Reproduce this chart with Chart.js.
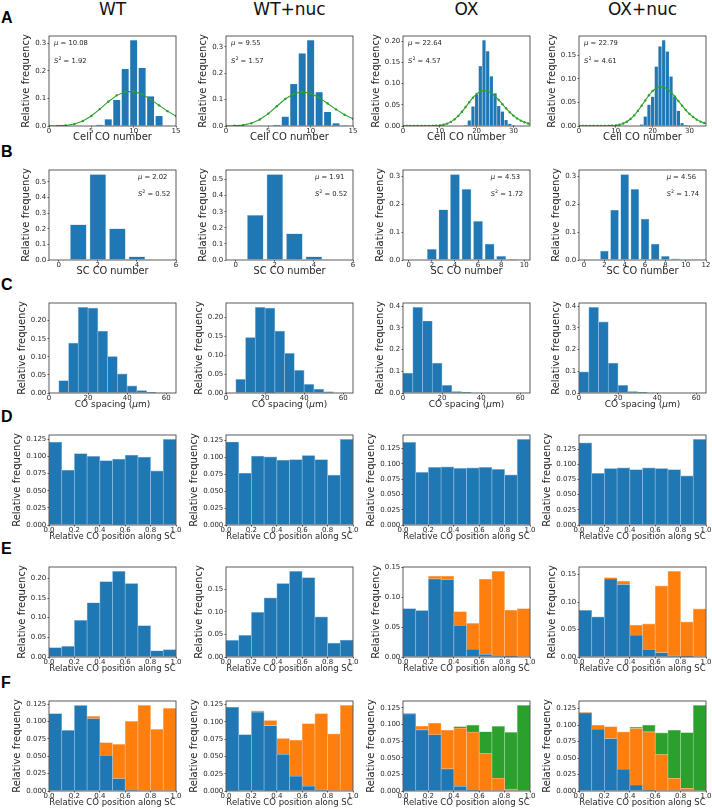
<!DOCTYPE html>
<html><head><meta charset="utf-8">
<script src="https://cdn.jsdelivr.net/npm/chart.js@4.4.0/dist/chart.umd.min.js"></script>
<style>
html,body{margin:0;padding:0;background:#fff;}
#fig{position:relative;width:712px;height:809px;overflow:hidden;background:#fff;}
#fig canvas{position:absolute;}
.ttl{position:absolute;font-family:"DejaVu Sans",sans-serif;font-size:17px;line-height:1;color:#111;transform:translateX(-50%);white-space:nowrap;}
.lab{position:absolute;font-family:"Liberation Sans",Arial,sans-serif;font-weight:bold;font-size:16px;line-height:1;color:#000;}
</style></head><body><div id="fig"></div>
<script>
// ---------------- data ----------------
const conditions = ['WT', 'WT+nuc', 'OX', 'OX+nuc'];
const rowLetters = ['A', 'B', 'C', 'D', 'E', 'F'];

// A: cell CO number
const cellK_WT = [0,1,2,3,4,5,6,7,8,9,10,11,12,13,14,15];
const cellCO_WT    = [0,0,0,0,0,0,0.004,0.024,0.094,0.206,0.310,0.210,0.107,0.036,0.002,0];
const cellCO_WTnuc = [0,0,0,0,0,0,0.004,0.035,0.159,0.275,0.325,0.128,0.053,0.010,0.001,0];
const cellK_OX = [17,18,19,20,21,22,23,24,25,26,27,28,29,30];
const cellCO_OX    = [0.002,0.013,0.046,0.073,0.141,0.202,0.176,0.117,0.077,0.047,0.034,0.014,0.005,0.002];
const cellCO_OXnuc = [0.003,0.020,0.045,0.062,0.126,0.169,0.182,0.158,0.105,0.062,0.032,0.006,0.002,0];
const fitK_WT = [0,1,2,3,4,5,6,7,8,9,10,11,12,13,14,15];
const fit_WT    = [0.0000,0.0004,0.0021,0.0072,0.0180,0.0363,0.0611,0.0879,0.1108,0.1241,0.1251,0.1146,0.0963,0.0746,0.0537,0.0361];
const fit_WTnuc = [0.0001,0.0007,0.0032,0.0103,0.0247,0.0471,0.0750,0.1024,0.1222,0.1297,0.1238,0.1075,0.0856,0.0629,0.0429,0.0273];
const fitK_OX = [0,1,2,3,4,5,6,7,8,9,10,11,12,13,14,15,16,17,18,19,20,21,22,23,24,25,26,27,28,29,30,31,32,33,34,35];
const fit_OX    = [0,0,0,0,0,0,0,0.0001,0.0003,0.0006,0.0014,0.0030,0.0056,0.0097,0.0157,0.0237,0.0335,0.0446,0.0561,0.0668,0.0756,0.0815,0.0839,0.0826,0.0779,0.0706,0.0614,0.0515,0.0417,0.0325,0.0245,0.0179,0.0127,0.0087,0.0058,0.0038];
const fit_OXnuc = [0,0,0,0,0,0,0,0.0001,0.0002,0.0006,0.0013,0.0027,0.0052,0.0091,0.0148,0.0225,0.0321,0.0430,0.0544,0.0653,0.0744,0.0807,0.0836,0.0828,0.0787,0.0717,0.0629,0.0531,0.0432,0.0339,0.0258,0.0190,0.0135,0.0093,0.0063,0.0041];
const cellMu  = ['10.08', '9.55', '22.64', '22.79'];
const cellVar = ['1.92', '1.57', '4.57', '4.61'];

// B: SC CO number
const scK_WT = [0,1,2,3,4,5,6];
const scCO_WT    = [0,0.228,0.549,0.202,0.023,0,0];
const scCO_WTnuc = [0.003,0.280,0.533,0.165,0.021,0,0];
const scK_OX = [0,1,2,3,4,5,6,7,8,9,10];
const scCO_OX    = [0,0.002,0.039,0.181,0.307,0.254,0.140,0.058,0.014,0.004,0.001];
const scK_OXnuc = [0,1,2,3,4,5,6,7,8,9,10,11,12];
const scCO_OXnuc = [0,0.002,0.033,0.180,0.307,0.254,0.148,0.058,0.014,0.005,0.001,0.0005,0];
const scMu  = ['2.02', '1.91', '4.53', '4.56'];
const scVar = ['0.52', '0.52', '1.72', '1.74'];

// C: CO spacing (bin centres, um)
const spacingBins = [2.5,7.5,12.5,17.5,22.5,27.5,32.5,37.5,42.5,47.5,52.5,57.5];
const spacing_WT    = [0,0.034,0.138,0.237,0.235,0.171,0.101,0.053,0.020,0.007,0.002,0];
const spacing_WTnuc = [0,0.036,0.147,0.227,0.225,0.164,0.105,0.060,0.023,0.010,0.003,0];
const spacing_OX    = [0.092,0.395,0.332,0.138,0.035,0.006,0.001,0,0,0,0,0];
const spacing_OXnuc = [0.097,0.395,0.328,0.138,0.035,0.006,0.001,0,0,0,0,0];

// D-F: relative position along SC (bin centres)
const posBins = [0.05,0.15,0.25,0.35,0.45,0.55,0.65,0.75,0.85,0.95];
const posAll_WT    = [0.121,0.080,0.104,0.100,0.094,0.096,0.102,0.099,0.079,0.125];
const posAll_WTnuc = [0.123,0.077,0.102,0.101,0.096,0.097,0.103,0.097,0.074,0.127];
const posAll_OX    = [0.135,0.086,0.094,0.095,0.0925,0.0935,0.094,0.091,0.082,0.140];
const posAll_OXnuc = [0.135,0.085,0.093,0.094,0.091,0.094,0.093,0.091,0.081,0.141];

const posE_WT    = [0.024,0.027,0.093,0.138,0.192,0.218,0.187,0.080,0.016,0.019];
const posE_WTnuc = [0.037,0.048,0.099,0.131,0.163,0.190,0.176,0.089,0.031,0.0375];
const posE_OX_1st    = [0.081,0.078,0.131,0.130,0.053,0.013,0.0046,0.0017,0.0005,0];
const posE_OX_2nd    = [0,0,0.0047,0.0057,0.023,0.0435,0.126,0.142,0.078,0.081];
const posE_OXnuc_1st = [0.085,0.073,0.142,0.132,0.040,0.014,0.008,0.0025,0.0005,0];
const posE_OXnuc_2nd = [0,0,0.0025,0.006,0.018,0.0465,0.1216,0.1535,0.0635,0.0877];

const posF_WT_1st    = [0.1115,0.0875,0.123,0.1043,0.0514,0.0178,0.0019,0,0,0];
const posF_WT_2nd    = [0,0,0.0005,0.0034,0.0183,0.0495,0.0986,0.1236,0.089,0.1192];
const posF_WTnuc_1st = [0.1212,0.0817,0.114,0.0947,0.0529,0.0216,0.0072,0.0019,0,0];
const posF_WTnuc_2nd = [0,0,0.002,0.0073,0.0231,0.052,0.0904,0.1101,0.0827,0.124];
const posF_OX_1st    = [0.116,0.092,0.0847,0.0333,0.0071,0.001,0,0,0,0];
const posF_OX_2nd    = [0.0005,0.0058,0.0176,0.0584,0.0877,0.0877,0.0565,0.0192,0.003,0];
const posF_OX_3rd    = [0,0,0,0,0.002,0.0106,0.0327,0.0781,0.0852,0.129];
const posF_OXnuc_1st = [0.1184,0.0937,0.0796,0.0333,0.0091,0.001,0,0,0,0];
const posF_OXnuc_2nd = [0.0005,0.0061,0.0182,0.0564,0.0857,0.0887,0.0554,0.0192,0.004,0];
const posF_OXnuc_3rd = [0,0,0,0,0.002,0.0101,0.0328,0.073,0.0847,0.130];

// tick labels
const xt_cellWT = ['0','5','10','15'];
const xt_cellOX = ['0','10','20','30'];
const xt_scWT = ['0','2','4','6'];
const xt_scOX = ['0','2','4','6','8','10'];
const xt_scOXnuc = ['0','2','4','6','8','10','12'];
const xt_spacing = ['0','20','40','60'];
const xt_pos = ['0.0','0.2','0.4','0.6','0.8','1.0'];
const yt_1dp3 = ['0.0','0.1','0.2','0.3'];
const yt_1dp4 = ['0.0','0.1','0.2','0.3','0.4'];
const yt_1dp5 = ['0.0','0.1','0.2','0.3','0.4','0.5'];
const yt_2dp15 = ['0.00','0.05','0.10','0.15'];
const yt_2dp20 = ['0.00','0.05','0.10','0.15','0.20'];
const yt_3dp = ['0.000','0.025','0.050','0.075','0.100','0.125'];

const xLabelCell = [{t:'Cell CO number'}];
const xLabelSC = [{t:'SC CO number'}];
const xLabelSpacing = [{t:'CO spacing ('},{t:'μ',i:true},{t:'m)'}];
const xLabelPos = [{t:'Relative CO position along SC'}];

// ---------------- style / layout ----------------
const BLUE = '#1f77b4', ORANGE = '#ff7f0e', GREEN = '#2ca02c';
const EDGES = {'#1f77b4': '#8bbadd', '#ff7f0e': '#ffb97c', '#2ca02c': '#8fce8f'};
const FONT = '"DejaVu Sans", sans-serif';
const TEXT = '#262626';
const TICK = 7, LABEL = 10, ANNOT = 6.8;
const XLABEL_SIZE = [10, 9.8, 9, 8.5, 8.5, 8.5];
const TICK_LEN = 1.5, YTICK_PAD = 1.2, XTICK_PAD = -0.5, YLAB_GAP = 8.5, XLAB_OFF = 11.8;
const colLeft = [49, 226, 403, 579], plotW = 127;
const rowTop = [36, 170, 303, 435, 567, 701], plotH = 90;
const PADL = 52, PADT = 6, PADR = 22, XH = 22;

const fig = document.getElementById('fig');
conditions.forEach((t, c) => {
  const d = document.createElement('div'); d.className = 'ttl'; d.textContent = t;
  d.style.left = (colLeft[c] + plotW / 2) + 'px'; d.style.top = '1px'; fig.appendChild(d);
});
rowLetters.forEach((t, r) => {
  const d = document.createElement('div'); d.className = 'lab'; d.textContent = t;
  d.style.left = '1px'; d.style.top = (rowTop[r] - 26.4) + 'px'; fig.appendChild(d);
});

function drawSegs(ctx, segs, x, y, size, align) {
  const fontOf = s => `${s.i ? 'italic ' : ''}${s.sup ? size * 0.7 : size}px ${FONT}`;
  let w = 0;
  segs.forEach(s => { ctx.font = fontOf(s); w += ctx.measureText(s.t).width; });
  let cx = align === 'center' ? x - w / 2 : x;
  ctx.textAlign = 'left'; ctx.textBaseline = 'middle'; ctx.fillStyle = TEXT;
  segs.forEach(s => {
    ctx.font = fontOf(s);
    ctx.fillText(s.t, cx, s.sup ? y - size * 0.35 : y);
    cx += ctx.measureText(s.t).width;
  });
}

const mplPlugin = {
  id: 'mpl',
  afterDraw(chart) {
    const o = chart.options.plugins.mpl;
    const {ctx, chartArea: a} = chart;
    ctx.save();
    ctx.strokeStyle = '#333'; ctx.lineWidth = 0.8;
    ctx.strokeRect(a.left, a.top, a.right - a.left, a.bottom - a.top);
    ctx.font = `${TICK}px ${FONT}`;
    let mw = 0;
    chart.scales.y.ticks.forEach(t => { mw = Math.max(mw, ctx.measureText(String(t.label)).width); });
    const xl = a.left - TICK_LEN - YTICK_PAD - mw - YLAB_GAP;
    ctx.save();
    ctx.translate(xl, (a.top + a.bottom) / 2);
    ctx.rotate(-Math.PI / 2);
    drawSegs(ctx, [{t:'Relative frequency'}], 0, 0, LABEL, 'center');
    ctx.restore();
    drawSegs(ctx, o.xlabel, (a.left + a.right) / 2, a.bottom + XLAB_OFF, o.xlabelSize, 'center');
    if (o.annot) {
      const w = a.right - a.left, h = a.bottom - a.top;
      const x = a.left + o.annot.fx * w;
      drawSegs(ctx, [{t:'μ', i:true}, {t:' = ' + o.annot.mu}], x, a.top + o.annot.fy[0] * h, ANNOT, 'left');
      drawSegs(ctx, [{t:'S', i:true}, {t:'2', sup:true}, {t:' = ' + o.annot.s2}], x, a.top + o.annot.fy[1] * h, ANNOT, 'left');
    }
    ctx.restore();
  }
};

function pts(xs, ys) { return xs.map((x, i) => ({x: x, y: ys[i]})); }
function barDs(xs, ys, color, pct, bw) {
  return {type: 'bar', data: pts(xs, ys), backgroundColor: color, borderColor: EDGES[color],
    borderWidth: bw === undefined ? 0.7 : bw,
    borderSkipped: 'start', barPercentage: pct, categoryPercentage: 1, grouped: false, order: 1};
}
function lineDs(xs, ys) {
  return {type: 'line', data: pts(xs, ys), borderColor: GREEN, borderWidth: 1.1, pointRadius: 1.2,
    pointBackgroundColor: GREEN, pointBorderWidth: 0, tension: 0, clip: 0, order: 0};
}

function axis(min, max, labels, isY, stacked) {
  return {
    type: 'linear', min: min, max: max, offset: false, stacked: stacked,
    grid: {display: true, drawOnChartArea: false, drawTicks: true, tickLength: TICK_LEN, tickColor: '#333', tickWidth: 0.8, offset: false},
    border: {display: false},
    ticks: {font: {family: FONT, size: TICK}, color: TEXT, padding: isY ? YTICK_PAD : XTICK_PAD, autoSkip: false, maxRotation: 0, minRotation: 0,
      callback: (v, i) => labels[i]},
    afterBuildTicks: s => { s.ticks = labels.map(l => ({value: parseFloat(l)})); },
    afterFit: s => { if (isY) s.width = PADL; else s.height = XH; }
  };
}

function makePanel(r, c, p) {
  const cv = document.createElement('canvas');
  const W = PADL + plotW + PADR, H = PADT + plotH + XH;
  cv.width = W; cv.height = H;
  cv.style.width = W + 'px'; cv.style.height = H + 'px';
  cv.style.left = (colLeft[c] - PADL) + 'px'; cv.style.top = (rowTop[r] - PADT) + 'px';
  fig.appendChild(cv);
  // y upper limit: 5% margin above the tallest (stacked) value, as matplotlib autoscale
  const bars = p.datasets.filter(d => d.type === 'bar');
  let top = 0;
  bars[0].data.forEach((pt, i) => {
    const tot = p.stacked ? bars.reduce((s, d) => s + d.data[i].y, 0) : Math.max(...bars.map(d => d.data[i].y));
    top = Math.max(top, tot);
  });
  p.datasets.filter(d => d.type === 'line').forEach(d => d.data.forEach(pt => { if (pt.x <= p.xmax) top = Math.max(top, pt.y); }));
  new Chart(cv, {
    type: 'bar',
    data: {datasets: p.datasets},
    options: {
      responsive: false, animation: false, devicePixelRatio: 1, events: [],
      layout: {padding: {top: PADT, right: PADR, left: 0, bottom: 0}},
      plugins: {legend: {display: false}, tooltip: {enabled: false},
        mpl: {xlabel: p.xlabel, xlabelSize: XLABEL_SIZE[r], annot: p.annot}},
      scales: {
        x: axis(p.xmin, p.xmax, p.xticks, false, true),
        y: axis(0, top * 1.05, p.yticks, true, !!p.stacked)
      }
    },
    plugins: [mplPlugin]
  });
}

// ---------------- panels ----------------
const annA = (c) => ({fx: 0.04, fy: [0.08, 0.28], mu: cellMu[c], s2: cellVar[c]});
const annB = (c) => ({fx: c < 2 ? 0.70 : 0.69, fy: [0.075, 0.265], mu: scMu[c], s2: scVar[c]});
const BW_A = 0.82, BW_B = 0.84;

// Row A
makePanel(0, 0, {datasets: [lineDs(fitK_WT, fit_WT), barDs(cellK_WT, cellCO_WT, BLUE, BW_A, 0)], xmin: 0, xmax: 15, xticks: xt_cellWT, yticks: yt_1dp3, xlabel: xLabelCell, annot: annA(0)});
makePanel(0, 1, {datasets: [lineDs(fitK_WT, fit_WTnuc), barDs(cellK_WT, cellCO_WTnuc, BLUE, BW_A, 0)], xmin: 0, xmax: 15, xticks: xt_cellWT, yticks: yt_1dp3, xlabel: xLabelCell, annot: annA(1)});
makePanel(0, 2, {datasets: [lineDs(fitK_OX, fit_OX), barDs(cellK_OX, cellCO_OX, BLUE, 0.86, 0)], xmin: 0, xmax: 34.5, xticks: xt_cellOX, yticks: yt_2dp20, xlabel: xLabelCell, annot: annA(2)});
makePanel(0, 3, {datasets: [lineDs(fitK_OX, fit_OXnuc), barDs(cellK_OX, cellCO_OXnuc, BLUE, 0.86, 0)], xmin: 0, xmax: 34.5, xticks: xt_cellOX, yticks: yt_2dp15, xlabel: xLabelCell, annot: annA(3)});
// Row B
makePanel(1, 0, {datasets: [barDs(scK_WT, scCO_WT, BLUE, BW_B, 0.5)], xmin: -0.5, xmax: 6, xticks: xt_scWT, yticks: yt_1dp5, xlabel: xLabelSC, annot: annB(0)});
makePanel(1, 1, {datasets: [barDs(scK_WT, scCO_WTnuc, BLUE, BW_B, 0.5)], xmin: -0.5, xmax: 6, xticks: xt_scWT, yticks: yt_1dp5, xlabel: xLabelSC, annot: annB(1)});
makePanel(1, 2, {datasets: [barDs(scK_OX, scCO_OX, BLUE, BW_B, 0.5)], xmin: -0.5, xmax: 10.5, xticks: xt_scOX, yticks: yt_1dp3, xlabel: xLabelSC, annot: annB(2)});
makePanel(1, 3, {datasets: [barDs(scK_OXnuc, scCO_OXnuc, BLUE, BW_B, 0.5)], xmin: -0.5, xmax: 12, xticks: xt_scOXnuc, yticks: yt_1dp3, xlabel: xLabelSC, annot: annB(3)});
// Row C
makePanel(2, 0, {datasets: [barDs(spacingBins, spacing_WT, BLUE, 1)], xmin: 0, xmax: 65, xticks: xt_spacing, yticks: yt_2dp20, xlabel: xLabelSpacing});
makePanel(2, 1, {datasets: [barDs(spacingBins, spacing_WTnuc, BLUE, 1)], xmin: 0, xmax: 65, xticks: xt_spacing, yticks: yt_2dp20, xlabel: xLabelSpacing});
makePanel(2, 2, {datasets: [barDs(spacingBins, spacing_OX, BLUE, 1)], xmin: 0, xmax: 65, xticks: xt_spacing, yticks: yt_1dp4, xlabel: xLabelSpacing});
makePanel(2, 3, {datasets: [barDs(spacingBins, spacing_OXnuc, BLUE, 1)], xmin: 0, xmax: 65, xticks: xt_spacing, yticks: yt_1dp4, xlabel: xLabelSpacing});
// Row D
[posAll_WT, posAll_WTnuc, posAll_OX, posAll_OXnuc].forEach((v, c) =>
  makePanel(3, c, {datasets: [barDs(posBins, v, BLUE, 1)], xmin: 0, xmax: 1, xticks: xt_pos, yticks: yt_3dp, xlabel: xLabelPos}));
// Row E
makePanel(4, 0, {datasets: [barDs(posBins, posE_WT, BLUE, 1)], xmin: 0, xmax: 1, xticks: xt_pos, yticks: yt_2dp20, xlabel: xLabelPos});
makePanel(4, 1, {datasets: [barDs(posBins, posE_WTnuc, BLUE, 1)], xmin: 0, xmax: 1, xticks: xt_pos, yticks: yt_2dp15, xlabel: xLabelPos});
makePanel(4, 2, {stacked: true, datasets: [barDs(posBins, posE_OX_1st, BLUE, 1), barDs(posBins, posE_OX_2nd, ORANGE, 1)], xmin: 0, xmax: 1, xticks: xt_pos, yticks: yt_2dp15, xlabel: xLabelPos});
makePanel(4, 3, {stacked: true, datasets: [barDs(posBins, posE_OXnuc_1st, BLUE, 1), barDs(posBins, posE_OXnuc_2nd, ORANGE, 1)], xmin: 0, xmax: 1, xticks: xt_pos, yticks: yt_2dp15, xlabel: xLabelPos});
// Row F
makePanel(5, 0, {stacked: true, datasets: [barDs(posBins, posF_WT_1st, BLUE, 1), barDs(posBins, posF_WT_2nd, ORANGE, 1)], xmin: 0, xmax: 1, xticks: xt_pos, yticks: yt_3dp, xlabel: xLabelPos});
makePanel(5, 1, {stacked: true, datasets: [barDs(posBins, posF_WTnuc_1st, BLUE, 1), barDs(posBins, posF_WTnuc_2nd, ORANGE, 1)], xmin: 0, xmax: 1, xticks: xt_pos, yticks: yt_3dp, xlabel: xLabelPos});
makePanel(5, 2, {stacked: true, datasets: [barDs(posBins, posF_OX_1st, BLUE, 1), barDs(posBins, posF_OX_2nd, ORANGE, 1), barDs(posBins, posF_OX_3rd, GREEN, 1)], xmin: 0, xmax: 1, xticks: xt_pos, yticks: yt_3dp, xlabel: xLabelPos});
makePanel(5, 3, {stacked: true, datasets: [barDs(posBins, posF_OXnuc_1st, BLUE, 1), barDs(posBins, posF_OXnuc_2nd, ORANGE, 1), barDs(posBins, posF_OXnuc_3rd, GREEN, 1)], xmin: 0, xmax: 1, xticks: xt_pos, yticks: yt_3dp, xlabel: xLabelPos});
</script>
</body></html>
